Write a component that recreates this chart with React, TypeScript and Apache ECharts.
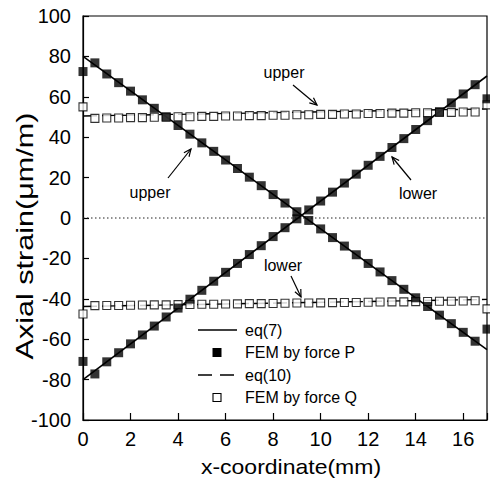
import React, { useEffect, useRef } from "react";
import * as echarts from "echarts";

// ---- data ----
const FEM_X = [0, 0.5, 1, 1.5, 2, 2.5, 3, 3.5, 4, 4.5, 5, 5.5, 6, 6.5, 7, 7.5, 8, 8.5, 9, 9.5, 10, 10.5, 11, 11.5, 12, 12.5, 13, 13.5, 14, 14.5, 15, 15.5, 16, 16.5, 17];
const FEM_P_UPPER = [72.5, 76.8, 71.3, 67.0, 62.8, 58.5, 54.3, 50.1, 45.8, 41.5, 37.2, 33.0, 28.7, 24.5, 20.2, 16.0, 11.6, 7.4, 3.1, -1.2, -5.4, -9.7, -13.9, -18.2, -22.5, -26.7, -31.0, -35.3, -39.5, -43.8, -48.1, -52.3, -56.6, -61.0, -55.0];
const FEM_P_LOWER = [-71.0, -77.2, -71.2, -66.7, -62.3, -57.9, -53.5, -49.0, -44.6, -40.2, -35.8, -31.3, -26.9, -22.5, -18.1, -13.7, -9.2, -4.8, -0.4, 4.0, 8.4, 12.8, 17.3, 21.7, 26.1, 30.5, 34.9, 39.3, 43.8, 48.2, 52.6, 57.0, 61.4, 66.0, 59.0];
const FEM_Q_UPPER = [55.0, 49.3, 49.5, 49.5, 49.7, 49.7, 49.9, 49.9, 50.1, 50.1, 50.3, 50.3, 50.5, 50.5, 50.7, 50.7, 50.9, 50.9, 51.1, 51.1, 51.3, 51.3, 51.5, 51.5, 51.7, 51.7, 51.9, 51.9, 52.1, 52.1, 52.3, 52.3, 52.5, 52.5, 56.0];
const FEM_Q_LOWER = [-47.5, -43.4, -43.3, -43.3, -43.2, -43.1, -43.0, -43.0, -42.9, -42.8, -42.7, -42.7, -42.6, -42.5, -42.4, -42.4, -42.3, -42.2, -42.1, -42.1, -42.0, -41.9, -41.8, -41.8, -41.7, -41.6, -41.5, -41.5, -41.4, -41.3, -41.2, -41.2, -41.1, -41.0, -45.0];
const EQ7_UPPER: number[][] = [[0, 80], [17, -65.2]];
const EQ7_LOWER: number[][] = [[0, -80], [17, 70.3]];
const EQ10_UPPER: number[][] = [[0, 50.5], [17, 54]];
const EQ10_LOWER: number[][] = [[0, -43.8], [17, -40.3]];
const ZERO_LINE: number[][] = [[0, 0], [17, 0]];
const X_RANGE = [0, 17];
const Y_RANGE = [-100, 100];
const LEGEND_LABELS = ["eq(7)", "FEM by force P", "eq(10)", "FEM by force Q"];
const X_TITLE = "x-coordinate(mm)";
const Y_TITLE = "Axial strain(\u03bcm/m)";

const FONT = "'Liberation Sans', Arial, Helvetica, sans-serif";

function pair(xs: number[], ys: number[]) {
  return xs.map((x, i) => [x, ys[i]]);
}

function arrow(x1: number, y1: number, x2: number, y2: number) {
  const ang = Math.atan2(y2 - y1, x2 - x1);
  const L = 8;
  const a = 0.42;
  const p1 = [x2 - L * Math.cos(ang - a), y2 - L * Math.sin(ang - a)];
  const p2 = [x2 - L * Math.cos(ang + a), y2 - L * Math.sin(ang + a)];
  return [
    { type: "line", shape: { x1, y1, x2, y2 }, style: { stroke: "#000", lineWidth: 1.2 } },
    { type: "polyline", shape: { points: [p1, [x2, y2], p2] }, style: { stroke: "#000", lineWidth: 1.2, fill: null } },
  ];
}

function label(text: string, x: number, y: number, size = 16) {
  return {
    type: "text",
    x,
    y,
    style: { text, x: 0, y: 0, fontSize: size, fontFamily: FONT, fill: "#000", align: "center", verticalAlign: "middle", textAlign: "center", textVerticalAlign: "middle" },
  };
}

export default function App() {
  const ref = useRef<HTMLDivElement>(null);
  useEffect(() => {
    if (!ref.current) return;
    const chart = echarts.init(ref.current, undefined, { renderer: "svg" });
    const lineSeries = (name: string, data: number[][], type: any, width: number) => ({
      type: "line",
      name,
      data,
      symbol: "none",
      lineStyle: { color: "#000", width, type },
      z: 2,
    });
    const scatter = (name: string, ys: number[], filled: boolean) => ({
      type: "scatter",
      name,
      data: pair(FEM_X, ys),
      symbol: "rect",
      symbolSize: filled ? 9 : 8,
      itemStyle: filled ? { color: "#000" } : { color: "#fff", borderColor: "#000", borderWidth: 1.1 },
      z: filled ? 4 : 3,
      clip: false,
    });
    const lgX = 198, lgT = 330, lgGap = 22.5;
    const legendGraphics: any[] = [
      { type: "line", shape: { x1: lgX, y1: lgT, x2: lgX + 39, y2: lgT }, style: { stroke: "#000", lineWidth: 1.5 } },
      { type: "rect", shape: { x: 212.5, y: lgT + lgGap - 4.5, width: 9, height: 9 }, style: { fill: "#000" } },
      { type: "line", shape: { x1: lgX, y1: lgT + 2 * lgGap, x2: lgX + 39, y2: lgT + 2 * lgGap }, style: { stroke: "#000", lineWidth: 1.4, lineDash: [14, 8] } },
      { type: "rect", shape: { x: 213, y: lgT + 3 * lgGap - 4, width: 8, height: 8 }, style: { fill: "#fff", stroke: "#000", lineWidth: 1.1 } },
      ...LEGEND_LABELS.map((t, i) => ({
        type: "text",
        x: 245,
        y: lgT + i * lgGap,
        style: { text: t, x: 0, y: 0, fontSize: 16, fontFamily: FONT, fill: "#000", align: "left", verticalAlign: "middle", textAlign: "left", textVerticalAlign: "middle" },
      })),
    ];
    const annotations: any[] = [
      label("upper", 284, 72),
      ...arrow(293, 85, 317, 105),
      label("upper", 150, 192),
      ...arrow(168, 178, 191, 149),
      label("lower", 418, 193),
      ...arrow(411, 180, 392, 157),
      label("lower", 283, 265),
      ...arrow(291, 276, 301, 297),
    ];
    chart.setOption({
      animation: false,
      backgroundColor: "#fff",
      grid: { left: 83, top: 16, width: 406, height: 404, show: true, borderColor: "#000", borderWidth: 1.2, backgroundColor: "transparent" },
      xAxis: {
        type: "value",
        min: X_RANGE[0],
        max: X_RANGE[1],
        interval: 2,
        axisLine: { show: true, onZero: false, lineStyle: { color: "#000", width: 1.2 } },
        axisTick: { show: true, inside: true, length: 7, lineStyle: { color: "#000", width: 1.2 } },
        axisLabel: { color: "#000", fontSize: 20, fontFamily: FONT, margin: 9, formatter: (v: number) => (v === 17 ? "" : String(v)) },
        splitLine: { show: false },
      },
      yAxis: {
        type: "value",
        min: Y_RANGE[0],
        max: Y_RANGE[1],
        interval: 20,
        axisLine: { show: true, onZero: false, lineStyle: { color: "#000", width: 1.2 } },
        axisTick: { show: true, inside: true, length: 6, lineStyle: { color: "#000", width: 1.2 } },
        axisLabel: { color: "#000", fontSize: 20, fontFamily: FONT, margin: 12 },
        splitLine: { show: false },
      },
      series: [
        { ...lineSeries("zero", ZERO_LINE, [1.5, 2.5], 1), lineStyle: { color: "#222", width: 1, type: [1.5, 2.5] }, z: 1 },
        lineSeries("eq(7)", EQ7_UPPER, "solid", 1.6),
        lineSeries("eq(7) lower", EQ7_LOWER, "solid", 1.6),
        lineSeries("eq(10)", EQ10_UPPER, [14, 5], 1.4),
        lineSeries("eq(10) lower", EQ10_LOWER, [14, 5], 1.4),
        scatter("FEM by force Q", FEM_Q_UPPER, false),
        scatter("FEM by force Q lower", FEM_Q_LOWER, false),
        scatter("FEM by force P", FEM_P_UPPER, true),
        scatter("FEM by force P lower", FEM_P_LOWER, true),
      ],
      graphic: [
        {
          type: "text",
          x: 291,
          y: 467,
          scaleX: 1.15,
          style: { text: X_TITLE, x: 0, y: 0, fontSize: 20, fontFamily: FONT, fill: "#000", align: "center", verticalAlign: "middle", textAlign: "center", textVerticalAlign: "middle" },
        },
        {
          type: "text",
          x: 25,
          y: 236,
          rotation: Math.PI / 2,
          scaleX: 1.33,
          style: { text: Y_TITLE, x: 0, y: 0, fontSize: 23, fontFamily: FONT, fill: "#000", align: "center", verticalAlign: "middle", textAlign: "center", textVerticalAlign: "middle" },
        },
        ...legendGraphics,
        ...annotations,
      ],
    });
    return () => chart.dispose();
  }, []);
  return <div ref={ref} style={{ width: 490, height: 479, position: "absolute", left: 0, top: 0 }} />;
}
